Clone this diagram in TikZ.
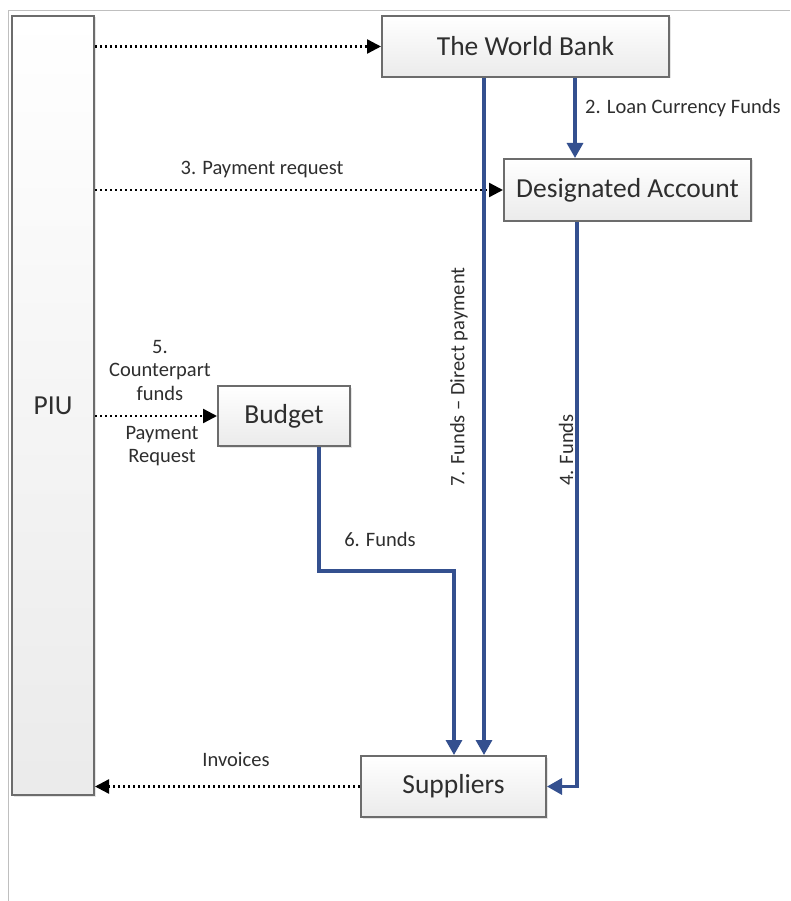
\documentclass[tikz,border=0pt]{standalone}
\usepackage{fontspec}
\setmainfont{Carlito}
\usetikzlibrary{arrows.meta,shadows}
\definecolor{fundblue}{HTML}{34508F}
\definecolor{txt}{HTML}{2E2E2E}
\tikzset{
  box/.style={draw=gray!85!black, line width=2pt, top color=white, bottom color=gray!16,
    drop shadow={shadow xshift=1.5pt, shadow yshift=-1.5pt, fill=gray!40, opacity=0.5},
    text=txt, font=\fontsize{27.5}{32}\selectfont, inner sep=0pt},
  req/.style={line width=2.4pt, black, dash pattern=on 2.4pt off 2.6pt, -{Triangle[length=14pt,width=14pt]}},
  fund/.style={fundblue, line width=3.2pt, -{Triangle[length=15pt,width=16pt]}},
  lbl/.style={text=txt, font=\fontsize{20.5}{23.5}\selectfont, inner sep=0pt},
}
\begin{document}
\begin{tikzpicture}[x=1pt,y=-1pt]
\useasboundingbox (0,0) rectangle (790,901);
\fill[white] (0,0) rectangle (790,901);
\draw[gray!50, line width=1pt] (8,901) -- (8,11) -- (790,11);

\node[box, minimum width=82, minimum height=779] (piu) at (53,405.5) {PIU};
\node[box, minimum width=287, minimum height=61] (wb) at (525.5,46.5) {The World Bank};
\node[box, minimum width=247, minimum height=62] (da) at (627.5,190) {Designated Account};
\node[box, minimum width=132, minimum height=60] (bud) at (284,416) {Budget};
\node[box, minimum width=185, minimum height=61] (sup) at (453.5,786.5) {Suppliers};

% dotted requests
\draw[req] (piu.east |- wb.west) -- (wb.west);
\draw[req] (piu.east |- da.west) -- (da.west);
\draw[req] (piu.east |- bud.west) -- (bud.west);
\draw[req] (sup.west) -- (piu.east |- sup.west);

\node[lbl] (l3) at (262,170) {3. Payment request};
\node[lbl, align=center] (l5) at (160,370) {5.\\Counterpart\\funds};
\node[lbl, align=center] (l5b) at (162,446) {Payment\\Request};
\node[lbl] (linv) at (236,760) {Invoices};

% fund flows
\coordinate (c2) at (575,0);
\coordinate (c7) at (484,0);
\coordinate (c4) at (577,0);
\coordinate (c6) at (319,0);
\coordinate (c6b) at (454,0);
\draw[fund] (wb.south -| c2) -- (da.north -| c2);
\node[lbl, anchor=west] (l2) at (585,108) {2. Loan Currency Funds};
\draw[fund] (wb.south -| c7) -- (sup.north -| c7);
\node[lbl, rotate=90] (l7) at (459,377) {7. Funds -- Direct payment};
\draw[fund] (da.south -| c4) |- (sup.east);
\node[lbl, rotate=90] (l4) at (566,450) {4. Funds};
\draw[fund] (bud.south -| c6) -- (319,571) -| (sup.north -| c6b);
\node[lbl] (l6) at (380,539) {6. Funds};
\end{tikzpicture}
\end{document}
